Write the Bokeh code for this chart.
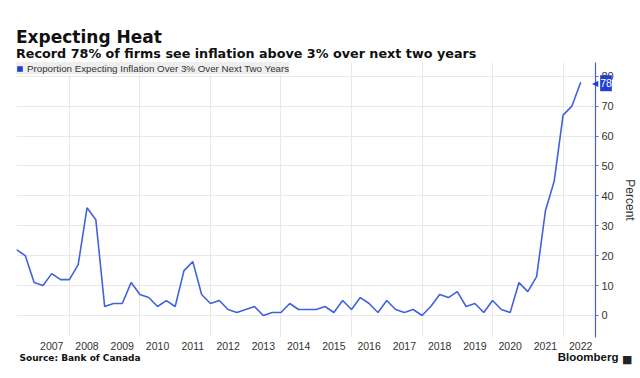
import pandas as pd
from bokeh.plotting import figure
from bokeh.models import (ColumnDataSource, Range1d, FixedTicker, Label, Legend, LegendItem)
from bokeh.embed import file_html
from bokeh.resources import INLINE

# ---- data ----
first_quarter = "2006Q3"
values = [22, 20, 11, 10, 14, 12, 12, 17, 36, 32,
          3, 4, 4, 11, 7, 6, 3, 5, 3, 15,
          18, 7, 4, 5, 2, 1, 2, 3, 0, 1,
          1, 4, 2, 2, 2, 3, 1, 5, 2, 6,
          4, 1, 5, 2, 1, 2, 0, 3, 7, 6,
          8, 3, 4, 1, 5, 2, 1, 11, 8, 13,
          35, 45, 67, 70, 78]
year_labels = [str(y) for y in range(2007, 2023)]
y_ticks = [0, 10, 20, 30, 40, 50, 60, 70, 80]
series_name = "Proportion Expecting Inflation Over 3% Over Next Two Years"
title_text = "Expecting Heat"
subtitle_text = "Record 78% of firms see inflation above 3% over next two years"
source_text = "Source: Bank of Canada"
last_value = values[-1]

quarters = pd.period_range(first_quarter, periods=len(values), freq="Q")
xs = [q.year + (q.quarter - 1) / 4 for q in quarters]

BLUE = "#4262dc"
DARK_BLUE = "#1f3fd1"
FONT = "Liberation Sans"
HEAD_FONT = "DejaVu Sans"

p = figure(width=640, height=378, output_backend="svg", toolbar_location=None,
           x_range=Range1d(2006.5, 2022.92), y_range=Range1d(-7.36, 84.6),
           y_axis_location="right",
           min_border_left=16, min_border_right=45, min_border_top=62, min_border_bottom=41)
p.outline_line_color = None

src = ColumnDataSource(dict(x=xs, y=values))
p.line("x", "y", source=src, line_color=BLUE, line_width=1.6)

# x axis: labels centred in each year
tick_pos = [int(t) + 0.5 for t in year_labels]
p.xaxis.ticker = FixedTicker(ticks=tick_pos)
p.xaxis.major_label_overrides = {t: lab for t, lab in zip(tick_pos, year_labels)}
p.xaxis.axis_line_color = None
p.xaxis.major_tick_line_color = None
p.xaxis.major_tick_out = 0
p.xaxis.major_tick_in = 0
p.xaxis.minor_tick_line_color = None
p.xaxis.major_label_standoff = 4
p.xaxis.major_label_text_font = FONT
p.xaxis.major_label_text_font_size = "10.5px"
p.xaxis.major_label_text_color = "#333333"

# y axis on the right
p.yaxis.ticker = FixedTicker(ticks=y_ticks)
p.yaxis.axis_line_color = BLUE
p.yaxis.axis_line_width = 1.2
p.yaxis.major_tick_line_color = "#777777"
p.yaxis.major_tick_in = 0
p.yaxis.major_tick_out = 3
p.yaxis.minor_tick_line_color = None
p.yaxis.major_label_standoff = 3
p.yaxis.major_label_text_font = FONT
p.yaxis.major_label_text_font_size = "11px"
p.yaxis.major_label_text_color = "#333333"
p.yaxis.axis_label = "Percent"
p.yaxis.axis_label_text_font = FONT
p.yaxis.axis_label_text_font_style = "normal"
p.yaxis.axis_label_text_font_size = "12px"
p.yaxis.axis_label_text_color = "#333333"
p.yaxis.axis_label_standoff = 6

# grids
p.xgrid.ticker = FixedTicker(ticks=list(range(2008, 2023, 2)))
p.xgrid.grid_line_color = "#e8e8e8"
p.ygrid.ticker = FixedTicker(ticks=y_ticks)
p.ygrid.grid_line_color = "#e8e8e8"

# legend (zero-area square proxy at last point)
sq = p.quad(left=[xs[-1]], right=[xs[-1]], bottom=[last_value], top=[last_value],
            fill_color=DARK_BLUE, line_color=None)
legend = Legend(items=[LegendItem(label=series_name, renderers=[sq])],
                location="top_left", margin=0, padding=3, spacing=0,
                background_fill_color="#eeeeee", background_fill_alpha=1,
                border_line_color=None, label_text_font=FONT,
                label_text_font_size="9.75px", label_text_color="#333333",
                glyph_width=7, glyph_height=7, label_standoff=4, label_height=12)
p.add_layout(legend)

# ---- texts outside the frame (side panels) ----
# above: title, subtitle, last-value flag
p.add_layout(Label(x=-0.5, y=25.7, x_units="screen", y_units="screen",
                   text=title_text, text_font=HEAD_FONT, text_font_style="bold",
                   text_font_size="17px", text_color="#111111",
                   text_baseline="alphabetic"), "above")
p.add_layout(Label(x=-0.5, y=-11.3, x_units="screen", y_units="screen",
                   text=subtitle_text, text_font=HEAD_FONT, text_font_style="bold",
                   text_font_size="12.75px", text_color="#111111",
                   text_baseline="alphabetic"), "above")
p.add_layout(Label(x=589.5, y=-55.7, x_units="screen", y_units="screen",
                   text=str(last_value), text_color="white", text_font=FONT,
                   text_font_size="10.5px", text_align="center", text_baseline="middle",
                   background_fill_color=DARK_BLUE, padding=(0, 4)), "above")
# left: flag pointer and logo mark
p.add_layout(Label(x=581.5, y=254.3, x_units="screen", y_units="screen",
                   text="◀", text_color=DARK_BLUE, text_font=HEAD_FONT,
                   text_font_size="8px", text_align="left", text_baseline="middle"), "left")
p.add_layout(Label(x=621.5, y=-22, x_units="screen", y_units="screen",
                   text="■", text_color="#222222", text_font=HEAD_FONT,
                   text_font_size="11px", text_align="left", text_baseline="middle"), "left")
# below: source and Bloomberg
p.add_layout(Label(x=3, y=4.5, x_units="screen", y_units="screen",
                   text=source_text, text_font=HEAD_FONT, text_font_style="bold",
                   text_font_size="9px", text_color="#111111", text_baseline="middle"), "below")
p.add_layout(Label(x=602, y=17.5, x_units="screen", y_units="screen",
                   text="Bloomberg", text_font=FONT, text_font_style="bold",
                   text_font_size="11.5px", text_color="#111111", text_baseline="middle",
                   text_align="right"), "below")

open("out.html", "w").write(file_html(p, INLINE))
